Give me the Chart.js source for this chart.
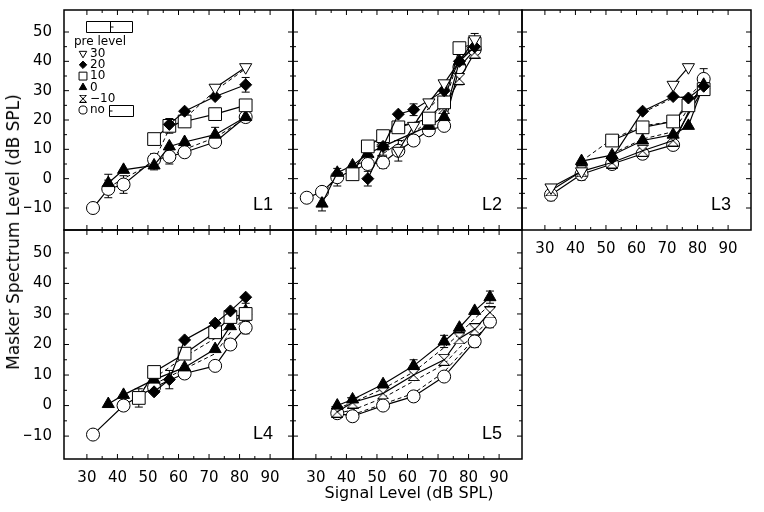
<!DOCTYPE html>
<html>
<head>
<meta charset="utf-8">
<title>Masker spectrum level vs signal level</title>
<script src="https://cdn.jsdelivr.net/npm/chart.js@4.4.1/dist/chart.umd.min.js"></script>
<style>
  body { margin: 0; background: #fff; }
  #fig { position: relative; width: 764px; height: 512px; overflow: hidden; font-family: "DejaVu Sans", sans-serif; color: #000; }
  #fig canvas { position: absolute; left: 0; top: 0; }
  #ytitle { position: absolute; left: 13px; top: 232px; transform: translate(-50%, -50%) rotate(-90deg); white-space: nowrap; font-size: 17px; }
  #xtitle { position: absolute; left: 409px; top: 492px; transform: translate(-50%, -50%); white-space: nowrap; font-size: 16px; }
</style>
</head>
<body>
<div id="fig">
  <canvas id="L1" width="764" height="512"></canvas>
  <canvas id="L2" width="764" height="512"></canvas>
  <canvas id="L3" width="764" height="512"></canvas>
  <canvas id="L4" width="764" height="512"></canvas>
  <canvas id="L5" width="764" height="512"></canvas>
  <div id="ytitle">Masker Spectrum Level (dB SPL)</div>
  <div id="xtitle">Signal Level (dB SPL)</div>
</div>
<script>
// tick labels
var XTICKS = [30, 40, 50, 60, 70, 80, 90];
var YTICKS = [-10, 0, 10, 20, 30, 40, 50];
// pre level conditions, in legend order
var LEVELS = ['30', '20', '10', '0', '\u221210', 'no'];

// points are [signal level, masker level, error bar]
var L1_30  = [[72, 31], [82, 38]];
var L1_20  = [[57, 18.5], [62, 23], [72, 28], [82, 32, 2.5]];
var L1_10  = [[52, 13.5], [57, 18, 2.5], [62, 19.5], [72, 22], [82, 25]];
var L1_0   = [[37, -1.5, 3], [42, 3], [52, 4.5, 1.5], [57, 11], [62, 12.5], [72, 15, 2.5], [82, 21]];
var L1_m10 = [];
var L1_no  = [[32, -10], [37, -3.5, 3], [42, -2, 3], [52, 6.5, 2], [57, 7.5, 2.5], [62, 9], [72, 12.5], [82, 21]];
var L1_dashA = [[37, -3], [42, 0], [52, 5.5], [62, 10], [72, 14], [82, 20.5]];
var L1_dashB = [[52, 6], [57, 17], [62, 20.5], [72, 30], [82, 37.5]];

var L2_30  = [[57, 9.5, 3.5], [62, 18], [67, 26], [72, 32.5], [82, 47.5, 2]];
var L2_20  = [[47, 0, 2.5], [52, 11], [57, 22], [62, 23.5, 2], [72, 30], [77, 40], [82, 45]];
var L2_10  = [[42, 1.5], [47, 11], [52, 14.5], [57, 17.5], [67, 20.5], [72, 26], [77, 44.5, 1.5], [82, 46]];
var L2_0   = [[32, -8.5, 2.5], [37, 2], [42, 4.5], [47, 8.5], [52, 11, 3], [67, 18], [72, 21], [77, 40], [82, 45]];
var L2_m10 = [[72, 24], [77, 34, 2], [82, 43]];
var L2_no  = [[27, -6.5], [32, -4.5], [37, 0.5, 3], [47, 5], [52, 5.5, 2], [57, 9.5], [62, 13], [67, 16.5], [72, 18], [77, 38], [82, 44, 3]];
var L2_dashA = [[32, -6], [37, 1], [42, 4], [47, 6.5], [52, 8.5], [57, 12], [62, 15.5], [67, 20], [72, 25], [77, 42], [82, 47]];
var L2_dashB = [[42, 3], [47, 9.5], [52, 13], [57, 18], [62, 19], [67, 24], [72, 29], [77, 41], [82, 45]];

var L3_30  = [[32, -3], [42, 2.5], [62, null], [72, 32], [77, 38]];
var L3_20  = [[52, 7], [62, 23], [72, 28], [77, 27.5], [82, 31.5]];
var L3_10  = [[52, 13], [62, 17.5], [72, 19.5], [77, 25], [82, 30.5, 2]];
var L3_0   = [[42, 6], [52, 8], [62, 13], [72, 15], [77, 18], [82, 32]];
var L3_m10 = [[32, -4], [42, 2.5, 3], [52, 5.5], [62, 9.5], [72, 13], [82, 31]];
var L3_no  = [[32, -5.5, 2], [42, 1.5], [52, 5, 1.5], [62, 8.5], [72, 11.5], [82, 34, 3.5]];
var L3_dashA = [[42, 6], [52, 13.5], [62, 18], [72, 19.5], [77, 26], [82, 31]];
var L3_dashB = [[52, 8.5], [62, 13.5], [72, 16], [77, 24], [82, 32]];
var L3_dashC = [[62, 22.5], [72, 27.5], [77, 28], [82, 33]];

var L4_30  = [];
var L4_20  = [[52, 4.5], [57, 8.5, 3], [62, 21.5], [72, 27], [77, 31], [82, 35.5]];
var L4_10  = [[47, 2.5, 3], [52, 11], [62, 17], [72, 24, 1.5], [77, 29], [82, 30, 2]];
var L4_0   = [[37, 0.5], [42, 3.5], [52, 8.5], [62, 12.5], [72, 18.5], [77, 26], [82, 31, 2.5]];
var L4_m10 = [];
var L4_no  = [[32, -9.5, 1.5], [42, 0], [52, 6], [62, 10.5], [72, 13], [77, 20], [82, 25.5, 2]];
var L4_dashA = [[47, 4], [52, 9], [62, 16], [72, 22], [77, 27], [82, 31]];
var L4_dashB = [[52, 7], [62, 12], [72, 17], [77, 24], [82, 29]];

var L5_30  = [];
var L5_20  = [];
var L5_10  = [];
var L5_0   = [[37, 0], [42, 2], [52, 7], [62, 13, 2], [72, 21, 2], [77, 25.5], [82, 31], [87, 35.5, 2]];
var L5_m10 = [[37, -2], [42, 1], [52, 4], [62, 10], [72, 15], [77, 22], [82, 25], [87, 30.5]];
var L5_no  = [[37, -2.5], [42, -3.5], [52, 0], [62, 3], [72, 9.5], [82, 21, 2], [87, 27.5, 2]];
var L5_dashA = [[37, -1], [42, 1], [52, 5.5], [62, 11], [72, 19], [77, 23.5], [82, 28.5], [87, 33]];
var L5_dashB = [[37, -2.5], [42, -1.5], [52, 2.5], [62, 8], [72, 13.5], [77, 19], [82, 23], [87, 28.5]];
var L5_dashC = [[37, -3], [42, -3], [52, 0.5], [62, 4], [72, 11], [82, 22], [87, 27]];

Chart.defaults.font.family = '"DejaVu Sans", sans-serif';
Chart.defaults.color = '#000';

// open hourglass marker for the -10 condition
function hourglass(size) {
  var c = document.createElement('canvas');
  c.width = c.height = size;
  var g = c.getContext('2d');
  var a = 0.5, b = size - 0.5, m = size / 2;
  g.beginPath();
  g.moveTo(a, a); g.lineTo(b, a); g.lineTo(m, m); g.lineTo(b, b); g.lineTo(a, b); g.lineTo(m, m);
  g.closePath();
  g.fillStyle = '#fff'; g.fill();
  g.strokeStyle = '#000'; g.lineWidth = 1; g.stroke();
  return c;
}

var MARKS = [
  {style: 'triangle', rot: 180, fill: '#fff', r: 7},
  {style: 'rectRot', fill: '#000', r: 6},
  {style: 'rect', fill: '#fff', r: 9},
  {style: 'triangle', fill: '#000', r: 7},
  {style: hourglass(12), legend: hourglass(8), fill: '#fff', r: 6},
  {style: 'circle', fill: '#fff', r: 6.5}
];

function fmt(v) { return v < 0 ? '\u2212' + Math.abs(v) : String(v); }

function series(pts, i) {
  var m = MARKS[i];
  return {
    label: LEVELS[i],
    data: pts.map(function(p) { return {x: p[0], y: p[1], err: p[2] || 0}; }),
    showLine: true,
    borderColor: '#000', borderWidth: 1.2,
    backgroundColor: m.fill,
    pointStyle: m.style, pointRotation: m.rot || 0, pointRadius: m.r,
    pointBackgroundColor: m.fill, pointBorderColor: '#000', pointBorderWidth: 1,
    legendStyle: m.legend || m.style
  };
}

function dashed(pts) {
  return {
    label: '',
    data: pts.map(function(p) { return {x: p[0], y: p[1]}; }),
    showLine: true, borderColor: '#000', borderWidth: 1, borderDash: [4, 3],
    pointRadius: 0
  };
}

var panelPlugin = {
  id: 'panel',
  beforeDatasetsDraw: function(chart) {
    var ctx = chart.ctx, x = chart.scales.x, y = chart.scales.y;
    ctx.save();
    ctx.strokeStyle = '#000'; ctx.lineWidth = 1;
    chart.data.datasets.forEach(function(ds) {
      ds.data.forEach(function(p) {
        if (!p.err) return;
        var px = x.getPixelForValue(p.x);
        var y1 = y.getPixelForValue(p.y + p.err), y2 = y.getPixelForValue(p.y - p.err);
        ctx.beginPath();
        ctx.moveTo(px, y1); ctx.lineTo(px, y2);
        ctx.moveTo(px - 4, y1); ctx.lineTo(px + 4, y1);
        ctx.moveTo(px - 4, y2); ctx.lineTo(px + 4, y2);
        ctx.stroke();
      });
    });
    ctx.restore();
  },
  afterDraw: function(chart, args, opts) {
    var ctx = chart.ctx, a = chart.chartArea, x = chart.scales.x, y = chart.scales.y;
    ctx.save();
    ctx.strokeStyle = '#000';
    ctx.lineWidth = 1.5;
    ctx.strokeRect(a.left, a.top, a.right - a.left, a.bottom - a.top);
    ctx.lineWidth = 1;
    ctx.beginPath();
    var v, p, len;
    for (v = XTICKS[0]; v <= XTICKS[XTICKS.length - 1]; v += 5) {
      p = x.getPixelForValue(v); len = v % 10 === 0 ? 5 : 3;
      ctx.moveTo(p, a.bottom); ctx.lineTo(p, a.bottom - len);
      ctx.moveTo(p, a.top); ctx.lineTo(p, a.top + len);
    }
    for (v = YTICKS[0]; v <= YTICKS[YTICKS.length - 1]; v += 5) {
      p = y.getPixelForValue(v); len = v % 10 === 0 ? 5 : 3;
      ctx.moveTo(a.left, p); ctx.lineTo(a.left + len, p);
      ctx.moveTo(a.right, p); ctx.lineTo(a.right - len, p);
    }
    ctx.stroke();

    ctx.fillStyle = '#000';
    ctx.font = '18px "Liberation Sans", sans-serif';
    ctx.textAlign = 'right'; ctx.textBaseline = 'bottom';
    ctx.fillText(opts.name, a.right - 20, a.bottom - 16);

    if (opts.legend) {
      ctx.font = '12px "DejaVu Sans", sans-serif';
      ctx.textAlign = 'left'; ctx.textBaseline = 'middle';
      ctx.fillText('pre level', a.left + 10, a.top + 32);
      chart.data.datasets.forEach(function(ds, i) {
        if (!ds.label) return;
        var cy = a.top + 43.5 + i * 11.3;
        ctx.fillStyle = ds.pointBackgroundColor; ctx.strokeStyle = '#000'; ctx.lineWidth = 1;
        Chart.helpers.drawPoint(ctx, {pointStyle: ds.legendStyle, rotation: ds.pointRotation,
          radius: ds.pointRadius * 0.62, borderWidth: 1}, a.left + 19, cy);
        ctx.fillStyle = '#000';
        ctx.fillText(ds.label, a.left + 26, cy);
      });
      // empty key boxes of the original figure
      ctx.lineWidth = 1;
      ctx.beginPath();
      ctx.rect(a.left + 22.5, a.top + 11.5, 46, 11);
      ctx.moveTo(a.left + 46.5, a.top + 11.5); ctx.lineTo(a.left + 46.5, a.top + 22.5);
      ctx.moveTo(a.left + 46.5, a.top + 17); ctx.lineTo(a.left + 49.5, a.top + 17);
      ctx.rect(a.left + 45.5, a.top + 95.5, 24, 11);
      ctx.moveTo(a.left + 45.5, a.top + 101); ctx.lineTo(a.left + 48.5, a.top + 101);
      ctx.stroke();
    }
    ctx.restore();
  }
};

var YW = 40, XH = 30;
function makeChart(id, rect, sets, dashes, showX, showY, legend) {
  var datasets = [];
  sets.forEach(function(pts, i) { if (pts.length || legend) datasets.push(series(pts, i)); });
  dashes.forEach(function(pts) { datasets.push(dashed(pts)); });
  var tickFont = {size: 15};
  return new Chart(document.getElementById(id), {
    type: 'scatter',
    data: {datasets: datasets},
    options: {
      responsive: false,
      animation: false,
      events: [],
      layout: {padding: {left: rect.l - YW, top: rect.t, right: 764 - rect.r, bottom: 512 - rect.b - XH}},
      plugins: {
        legend: {display: false},
        tooltip: {enabled: false},
        panel: {name: id, legend: legend}
      },
      scales: {
        x: {
          type: 'linear', min: 22.5, max: 97.5,
          grid: {display: false}, border: {display: false},
          afterBuildTicks: function(s) { s.ticks = XTICKS.map(function(v) { return {value: v}; }); },
          afterFit: function(s) { s.height = XH; s.paddingLeft = 0; s.paddingRight = 0; },
          ticks: {display: showX, padding: 2, font: tickFont, color: '#000', callback: fmt}
        },
        y: {
          type: 'linear', min: -17.5, max: 57.5,
          grid: {display: false}, border: {display: false},
          afterBuildTicks: function(s) { s.ticks = YTICKS.map(function(v) { return {value: v}; }); },
          afterFit: function(s) { s.width = YW; s.paddingTop = 0; s.paddingBottom = 0; },
          ticks: {display: showY, padding: 4, font: tickFont, color: '#000', callback: fmt}
        }
      }
    },
    plugins: [panelPlugin]
  });
}

var COLS = [64, 293, 522], ROWS = [1, 230], SIZE = 229;
function rect(c, r) { return {l: COLS[c], t: ROWS[r], r: COLS[c] + SIZE, b: ROWS[r] + SIZE}; }

makeChart('L1', rect(0, 0), [L1_30, L1_20, L1_10, L1_0, L1_m10, L1_no], [L1_dashA, L1_dashB], false, true, true);
makeChart('L2', rect(1, 0), [L2_30, L2_20, L2_10, L2_0, L2_m10, L2_no], [L2_dashA, L2_dashB], false, false, false);
makeChart('L3', rect(2, 0), [L3_30, L3_20, L3_10, L3_0, L3_m10, L3_no], [L3_dashA, L3_dashB, L3_dashC], true, false, false);
makeChart('L4', rect(0, 1), [L4_30, L4_20, L4_10, L4_0, L4_m10, L4_no], [L4_dashA, L4_dashB], true, true, false);
makeChart('L5', rect(1, 1), [L5_30, L5_20, L5_10, L5_0, L5_m10, L5_no], [L5_dashA, L5_dashB, L5_dashC], true, false, false);
</script>
</body>
</html>
